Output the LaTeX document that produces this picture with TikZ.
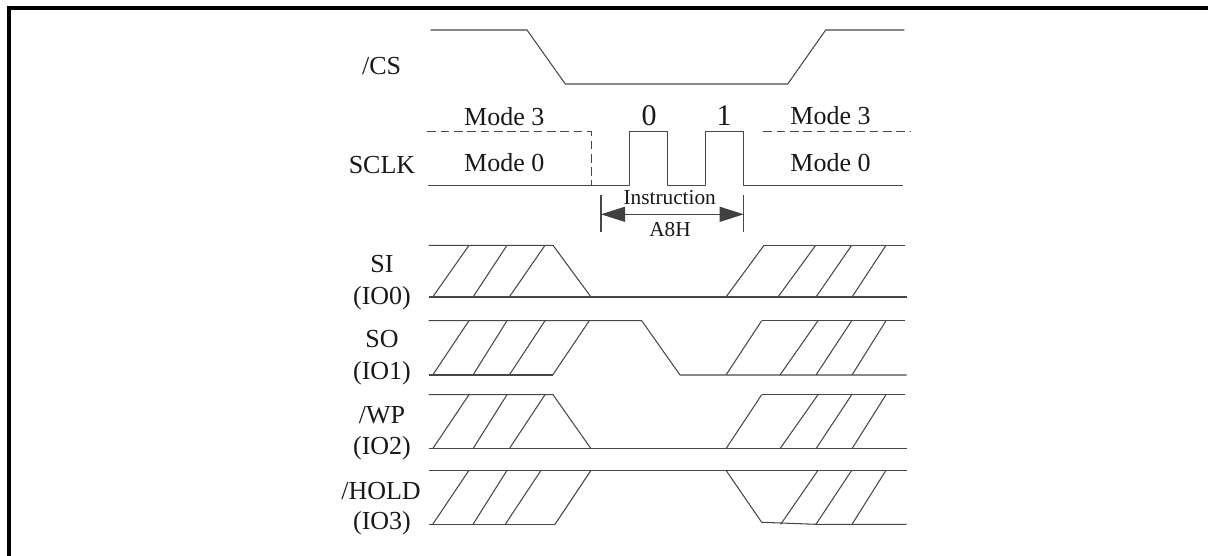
\documentclass[tikz,border=0pt]{standalone}
\usepackage{fontspec}
\setmainfont{Liberation Serif}
\usetikzlibrary{arrows.meta}
\tikzset{x=1pt,y=-1pt,
 sig/.style={draw=black!72,line width=1.05pt,line join=round},
 dashsig/.style={sig,dash pattern=on 8.7pt off 4.6pt},
 frameline/.style={draw=black,line width=4pt},
 lab/.style={inner sep=0pt,font=\fontsize{26}{26}\selectfont,text=black!90},
 small/.style={inner sep=0pt,font=\fontsize{21.3}{21.3}\selectfont,text=black!90},
 bit/.style={inner sep=0pt,font=\fontsize{30}{30}\selectfont,text=black!90},
 dimarrow/.style={{Triangle[length=24pt,width=15pt,color=black!75]}-{Triangle[length=24pt,width=15pt,color=black!75]}}}
\begin{document}
\begin{tikzpicture}
\useasboundingbox (0,0) rectangle (1208,556);
\fill[white] (0,0) rectangle (1208,556);
\draw[frameline] (9,556) -- (9,8) -- (1208,8);
% labels
\node[lab] (cs) at (381.6,66.5) {/CS};
\node[lab] (sclk) at (382,165) {SCLK};
\node[lab] (m3a) at (504.3,116.5) {Mode 3};
\node[lab] (m0a) at (504.3,163) {Mode 0};
\node[lab] (m3b) at (830.5,115.5) {Mode 3};
\node[lab] (m0b) at (830.5,163) {Mode 0};
\node[bit] (b0) at (649,116) {0};
\node[bit] (b1) at (724,116) {1};
\node[small] (ins) at (669.7,198) {Instruction};
\node[small] (a8h) at (670,230) {A8H};
\node[lab] (si) at (382,264) {SI};
\node[lab] (io0) at (382,298.5) {(IO0)};
\node[lab] (so) at (382,339) {SO};
\node[lab] (io1) at (382,373.6) {(IO1)};
\node[lab] (wp) at (382,415) {/WP};
\node[lab] (io2) at (382,448.5) {(IO2)};
\node[lab] (hold) at (381,491) {/HOLD};
\node[lab] (io3) at (382,523.5) {(IO3)};
% CS
\draw[sig] (430.7,30) -- (527,30) -- (565.3,84) -- (787.7,84) -- (825.7,30) -- (904.3,30);
% SCLK
\draw[sig] (428.3,185.7) -- (629.3,185.7) -- (629.3,131.7) -- (667.3,131.7) -- (667.3,185.7) -- (705.7,185.7) -- (705.7,131.7) -- (743.7,131.7) -- (743.7,185.7) -- (902.7,185.7);
\draw[dashsig] (427.3,131.7) -- (591.3,131.7) -- (591.3,185.7);
\draw[dashsig] (763.3,131.7) -- (911,131.7);
% dimension
\coordinate (dl) at (601,195);
\coordinate (dr) at (743.7,195);
\coordinate (dlb) at (601,231.7);
\coordinate (drb) at (743.7,231.7);
\coordinate (al) at (601,214.3);
\coordinate (ar) at (743.7,214.3);
\draw[sig] (dl) -- (dlb);
\draw[sig] (dr) -- (drb);
\draw[sig,dimarrow] (al) -- (ar);
% SI
\draw[sig] (428.7,245.3) -- (553,245.3) -- (591,297);
\draw[sig] (428.7,297) -- (906.7,297);
\draw[sig] (764,245.3) -- (904.7,245.3);
\foreach \a/\b in {432.7/469,473/507,509.3/545,726/764,778/815.7,816/851.7,852/886}
  \draw[sig] (\a,297) -- (\b,245.3);
% SO
\draw[sig] (428.7,320.7) -- (641.7,320.7) -- (680,375) -- (906.7,375);
\draw[sig] (428.7,375) -- (552.7,375);
\draw[sig] (761.7,320.7) -- (904.7,320.7);
\foreach \a/\b in {432.7/469,473/507,509.3/545,552.7/589.3,726/761.7,780/818,816/851.7,852/886}
  \draw[sig] (\a,375) -- (\b,320.7);
% WP
\draw[sig] (428.7,394.7) -- (553,394.7) -- (591,448.7);
\draw[sig] (428.7,448.7) -- (906.7,448.7);
\draw[sig] (761.7,394.7) -- (904.7,394.7);
\foreach \a/\b in {432.7/469,473/507,509.3/545,726/761.7,780/818,816/851.7,852/886}
  \draw[sig] (\a,448.7) -- (\b,394.7);
% HOLD
\draw[sig] (428.7,470.3) -- (906.7,470.3);
\draw[sig] (428.7,524.3) -- (555,524.3);
\draw[sig] (726,470.3) -- (761.7,522.3) -- (816,524.3) -- (906.7,524.3);
\foreach \a/\b in {432.7/469,473/507,505.3/541,555/591,780.7/818,816/851.7,852/886}
  \draw[sig] (\a,524.3) -- (\b,470.3);
\end{tikzpicture}
\end{document}
